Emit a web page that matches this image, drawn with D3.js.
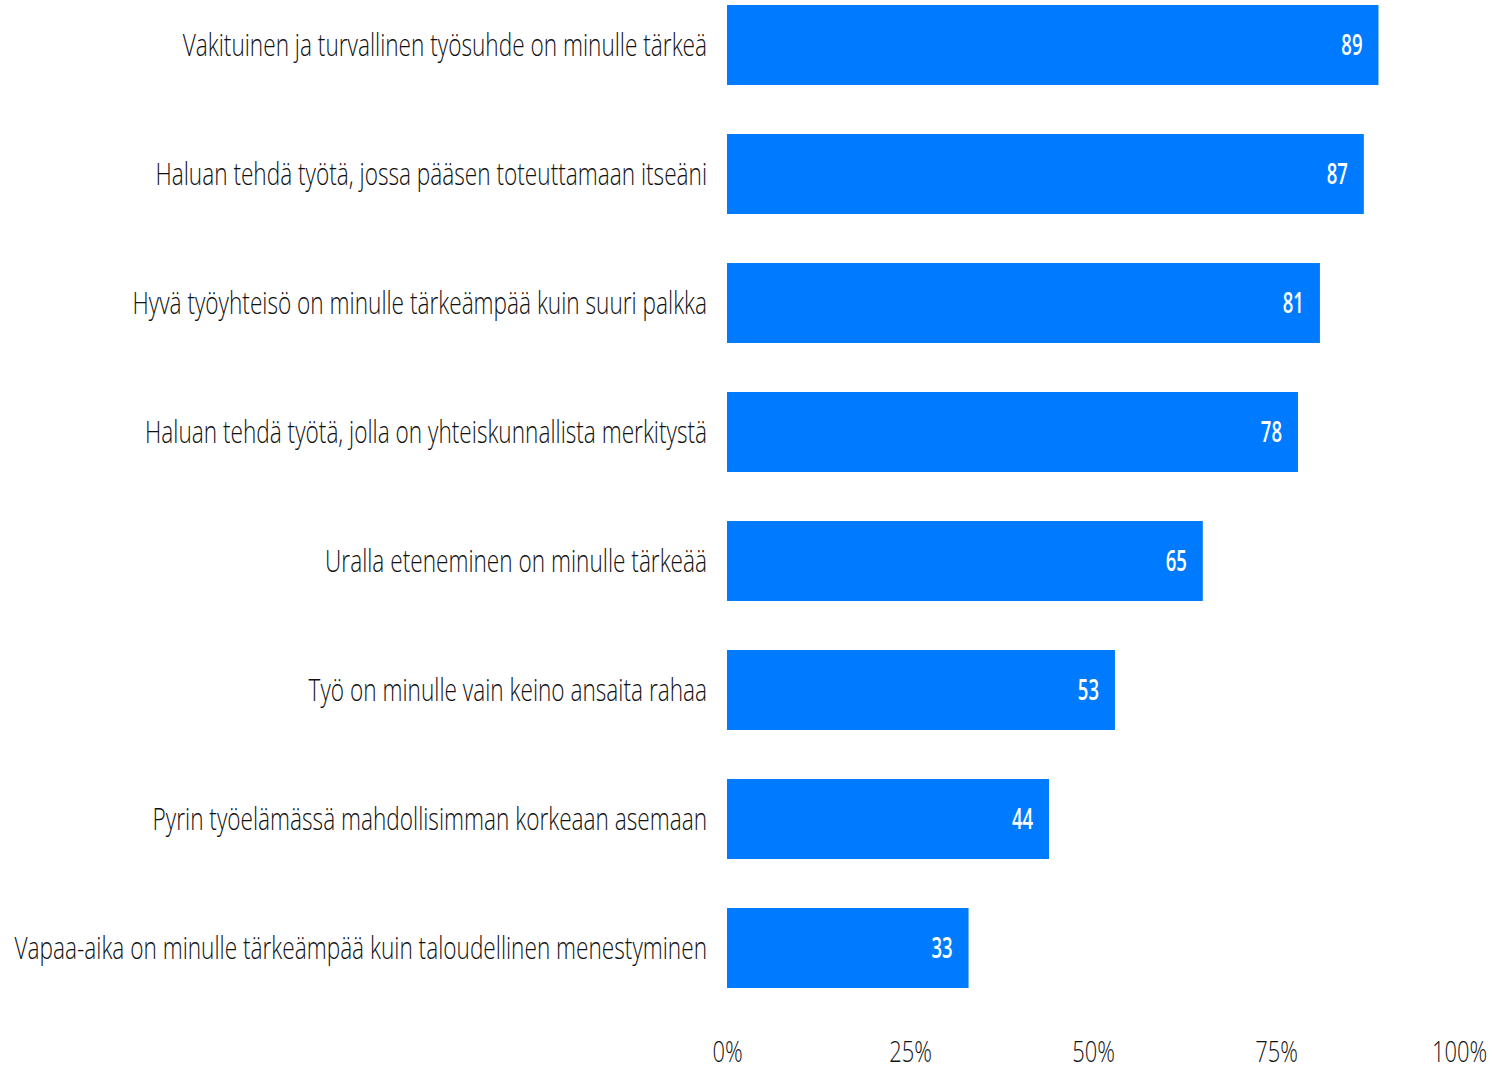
<!DOCTYPE html>
<html>
<head>
<meta charset="utf-8">
<script src="https://cdn.jsdelivr.net/npm/d3@7"></script>
<style>
  body { margin: 0; background: #fff; }
  svg text { font-family: "Open Sans", "Noto Sans", sans-serif; }
</style>
</head>
<body>
<div id="chart"></div>
<script>
const categories = [
    'Vakituinen ja turvallinen työsuhde on minulle tärkeä',
    'Haluan tehdä työtä, jossa pääsen toteuttamaan itseäni',
    'Hyvä työyhteisö on minulle tärkeämpää kuin suuri palkka',
    'Haluan tehdä työtä, jolla on yhteiskunnallista merkitystä',
    'Uralla eteneminen on minulle tärkeää',
    'Työ on minulle vain keino ansaita rahaa',
    'Pyrin työelämässä mahdollisimman korkeaan asemaan',
    'Vapaa-aika on minulle tärkeämpää kuin taloudellinen menestyminen'
];
const values = [89, 87, 81, 78, 65, 53, 44, 33];
const tickValues = [0, 25, 50, 75, 100];

const width = 1500, height = 1067;
const condense = 0.73;

const svg = d3.select('#chart').append('svg')
    .attr('width', width)
    .attr('height', height);

const xscale = d3.scaleLinear().domain([0, 100]).range([727, 1459]);
const yscale = d3.scaleBand()
    .domain(categories)
    .range([-19.5, 1012.5])
    .paddingInner(0.38)
    .paddingOuter(0.19);

const rows = categories.map((c, i) => ({ label: c, value: values[i] }));

// bars
svg.append('g').selectAll('rect')
    .data(rows)
    .join('rect')
    .attr('x', xscale(0))
    .attr('y', d => yscale(d.label))
    .attr('width', d => xscale(d.value) - xscale(0))
    .attr('height', yscale.bandwidth())
    .attr('fill', '#007bff');

// category labels, narrow
svg.append('g').selectAll('text')
    .data(rows)
    .join('text')
    .attr('transform', d => `translate(707, ${yscale(d.label) + yscale.bandwidth() / 2}) scale(${condense}, 1)`)
    .attr('text-anchor', 'end')
    .attr('dy', '0.35em')
    .attr('font-size', 31)
    .attr('font-weight', 300)
    .attr('fill', '#111')
    .text(d => d.label);

// value labels
svg.append('g').selectAll('text')
    .data(rows)
    .join('text')
    .attr('transform', d => `translate(${xscale(d.value) - 16}, ${yscale(d.label) + yscale.bandwidth() / 2}) scale(0.66, 1)`)
    .attr('text-anchor', 'end')
    .attr('dy', '0.35em')
    .attr('font-size', 28)
    .attr('font-weight', 600)
    .attr('fill', '#fff')
    .text(d => d.value);

// x axis
const xaxis = d3.axisBottom(xscale)
    .tickValues(tickValues)
    .tickFormat(d => d + '%')
    .tickSize(0)
    .tickPadding(0);

const axisG = svg.append('g')
    .attr('transform', 'translate(0, 1051)')
    .call(xaxis);
axisG.select('.domain').remove();
axisG.selectAll('text')
    .attr('font-size', 30)
    .attr('font-weight', 300)
    .attr('fill', '#111')
    .attr('font-family', '"Open Sans", sans-serif')
    .attr('dy', '0.35em')
    .attr('y', 0)
    .attr('transform', `scale(${condense}, 1)`);
</script>
</body>
</html>
